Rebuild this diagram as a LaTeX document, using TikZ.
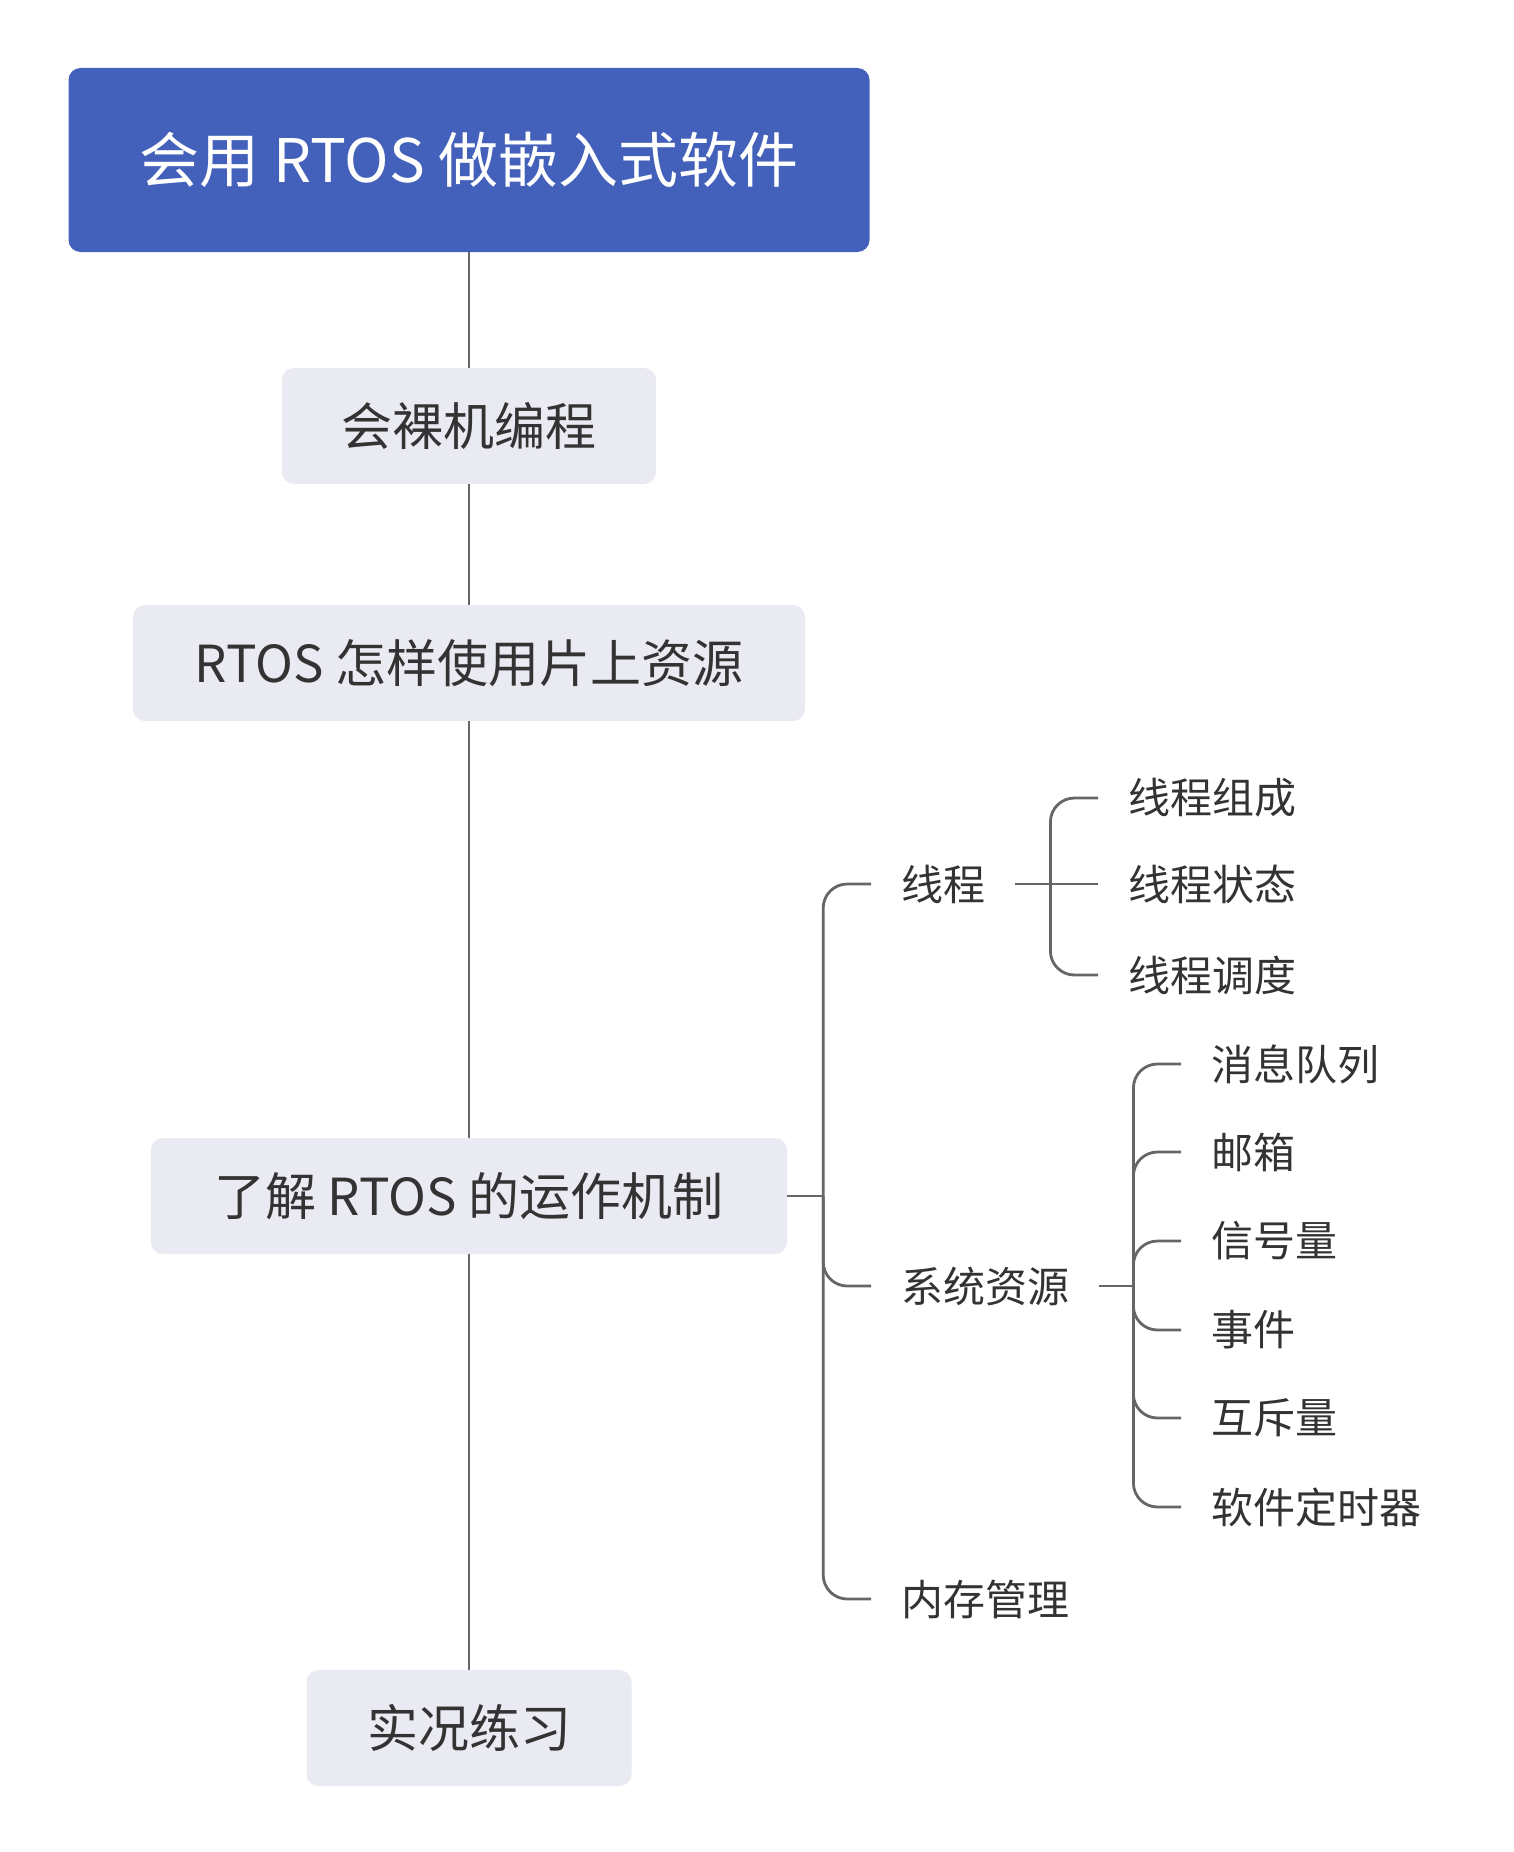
\documentclass[tikz,border=0pt]{standalone}
\usepackage{fontspec}
\setmainfont{Noto Sans CJK SC}
\usetikzlibrary{positioning}
\definecolor{rootblue}{HTML}{4360BA}
\definecolor{boxgray}{HTML}{E9EAF2}
\definecolor{linkgray}{HTML}{666666}
\definecolor{textgray}{HTML}{333333}

\begin{document}
\begin{tikzpicture}[x=1pt,y=-1pt,
  rootbox/.style={rectangle,rounded corners=12pt,fill=rootblue,text=white,
    minimum width=801pt,minimum height=184pt,font=\fontsize{60}{72}\selectfont},
  stepbox/.style={rectangle,rounded corners=12pt,fill=boxgray,text=textgray,
    minimum height=116pt,font=\fontsize{51}{61}\selectfont},
  leaf/.style={anchor=west,inner xsep=30pt,inner ysep=0pt,text=textgray,
    font=\fontsize{42}{50}\selectfont},
  link/.style={draw=linkgray,line width=2.8pt,rounded corners=24pt}]
  \useasboundingbox[fill=white] (0,0) rectangle (1514,1852);

  \node[rootbox] (root) at (469,160) {会用 RTOS 做嵌入式软件};
  \node[stepbox,minimum width=374pt] (bare) at (469,426) {会裸机编程};
  \node[stepbox,minimum width=672pt] (res)  at (469,663) {RTOS 怎样使用片上资源};
  \node[stepbox,minimum width=636pt] (mech) at (469,1196) {了解 RTOS 的运作机制};
  \node[stepbox,minimum width=325pt] (prac) at (469,1728) {实况练习};

  \draw[link] (root) -- (bare);
  \draw[link] (bare) -- (res);
  \draw[link] (res)  -- (mech);
  \draw[link] (mech) -- (prac);

  % second level
  \node[leaf] (thread) at (871,884)  {线程};
  \node[leaf] (sys)    at (871,1286) {系统资源};
  \node[leaf] (mem)    at (871,1599) {内存管理};

  \coordinate[right=36pt of mech] (mj);
  \draw[link] (mech.east) -- (mj);
  \draw[link] (mj) |- (thread.west);
  \draw[link] (mj) |- (sys.west);
  \draw[link] (mj) |- (mem.west);

  % thread children
  \node[leaf] (tcomp)  at (1098,798) {线程组成};
  \node[leaf] (tstate) at (1098,884) {线程状态};
  \node[leaf] (tsched) at (1098,975) {线程调度};

  \coordinate[right=35pt of thread] (tj);
  \draw[link] (thread.east) -- (tj);
  \draw[link] (tj) |- (tcomp.west);
  \draw[link] (tj) -- (tstate.west);
  \draw[link] (tj) |- (tsched.west);

  % system resource children
  \node[leaf] (queue) at (1181,1064) {消息队列};
  \node[leaf] (mbox)  at (1181,1152) {邮箱};
  \node[leaf] (sem)   at (1181,1241) {信号量};
  \node[leaf] (event) at (1181,1330) {事件};
  \node[leaf] (mutex) at (1181,1418) {互斥量};
  \node[leaf] (timer) at (1181,1507) {软件定时器};

  \coordinate[right=34pt of sys] (sj);
  \draw[link] (sys.east) -- (sj);
  \draw[link] (sj) |- (queue.west);
  \draw[link] (sj) |- (mbox.west);
  \draw[link] (sj) |- (sem.west);
  \draw[link] (sj) |- (event.west);
  \draw[link] (sj) |- (mutex.west);
  \draw[link] (sj) |- (timer.west);
\end{tikzpicture}
\end{document}
